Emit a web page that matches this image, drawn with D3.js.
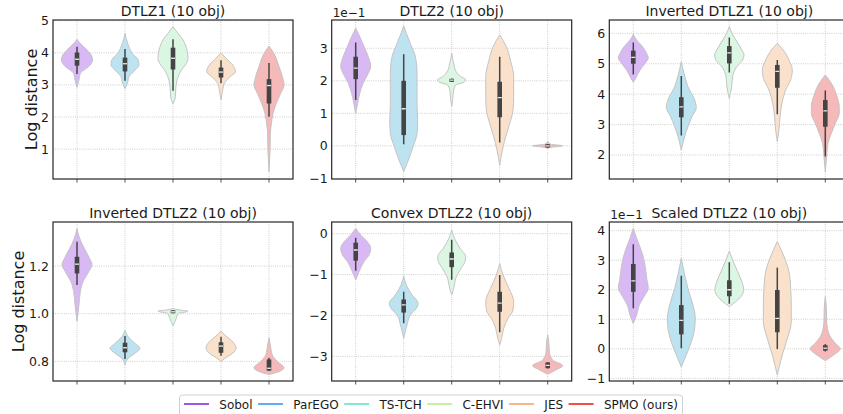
<!DOCTYPE html>
<html>
<head>
<meta charset="utf-8">
<script src="https://cdn.jsdelivr.net/npm/d3@7"></script>
<style>
  body { margin: 0; background: #fff; }
  svg { display: block; font-family: "DejaVu Sans", sans-serif; }
</style>
</head>
<body>
<svg id="chart" width="843" height="414"></svg>
<script>
// ---- Methods, legend and violin colours ----
const methods = ["Sobol", "ParEGO", "TS-TCH", "C-EHVI", "JES", "SPMO (ours)"];
const legendColors = ["#8a2be2", "#3a9ae8", "#5fe3c8", "#b5ee8c", "#f7a56e", "#ee2222"];
const violinColors = ["#d8b9f3", "#bde3f0", "#dcf6e4", "#f9e1cc", "#f4b9b8"];
const violinPositions = [0, 1, 2, 3, 4];

const panelTitles = [
  "DTLZ1 (10 obj)", "DTLZ2 (10 obj)", "Inverted DTLZ1 (10 obj)",
  "Inverted DTLZ2 (10 obj)", "Convex DTLZ2 (10 obj)", "Scaled DTLZ2 (10 obj)"
];

// Density profiles: [log distance, relative density] from top to bottom of each violin.
// Box stats: [lower whisker, q1, median, q3, upper whisker].
const dtlz1Shapes = [
  [[4.42,0],[4.29,0.22],[4.09,0.67],[3.88,1.0],[3.77,1.04],[3.57,0.78],[3.36,0.22],[3.15,0.13],[2.92,0]],
  [[4.61,0],[4.29,0.18],[3.98,0.49],[3.77,0.89],[3.62,0.93],[3.46,0.67],[3.26,0.27],[3.05,0.16],[2.89,0]],
  [[4.81,0],[4.61,0.33],[4.40,0.67],[4.09,0.93],[3.83,1.0],[3.67,0.89],[3.46,0.56],[3.15,0.27],[2.84,0.18],[2.63,0.16],[2.42,0]],
  [[4.0,0],[3.83,0.33],[3.62,0.78],[3.41,0.96],[3.26,0.62],[3.05,0.22],[2.84,0.11],[2.53,0]],
  [[4.21,0],[3.98,0.33],[3.57,0.67],[3.26,0.89],[3.0,1.0],[2.74,0.78],[2.43,0.49],[2.11,0.27],[1.80,0.16],[1.49,0.09],[0.97,0.07],[0.30,0]]
];
const dtlz1Boxes = [
  [3.34, 3.60, 3.80, 4.01, 4.19],
  [3.13, 3.42, 3.66, 3.85, 4.12],
  [2.82, 3.48, 3.83, 4.16, 4.42],
  [3.05, 3.23, 3.40, 3.54, 3.77],
  [2.01, 2.42, 2.98, 3.18, 3.68]
];

const dtlz2Shapes = [
  [[0.362,0],[0.336,0.27],[0.305,0.56],[0.274,0.84],[0.244,1.0],[0.223,0.84],[0.192,0.49],[0.162,0.27],[0.131,0.13],[0.100,0]],
  [[0.369,0],[0.346,0.18],[0.315,0.44],[0.274,0.78],[0.223,0.89],[0.172,0.89],[0.121,0.89],[0.079,0.93],[0.038,0.89],[-0.003,0.62],[-0.044,0.31],[-0.079,0]],
  [[0.285,0],[0.254,0.13],[0.228,0.30],[0.213,0.60],[0.203,0.93],[0.195,0.80],[0.188,0.30],[0.172,0.13],[0.145,0.07],[0.121,0]],
  [[0.341,0],[0.305,0.44],[0.264,0.71],[0.213,0.93],[0.151,0.93],[0.110,0.89],[0.069,0.67],[0.028,0.40],[-0.013,0.18],[-0.059,0]],
  [[0.015,0],[0.005,0.20],[0.000,1.0],[-0.004,0.30],[-0.008,0]]
];
const dtlz2Boxes = [
  [0.141, 0.205, 0.239, 0.274, 0.318],
  [0.005, 0.033, 0.114, 0.200, 0.282],
  [0.196, 0.197, 0.202, 0.206, 0.207],
  [0.010, 0.088, 0.148, 0.197, 0.274],
  [-0.006, -0.005, 0.000, 0.005, 0.006]
];

const invDtlz1Shapes = [
  [[5.97,0],[5.78,0.22],[5.56,0.62],[5.34,0.89],[5.2,1.0],[5.01,0.78],[4.79,0.44],[4.58,0.22],[4.39,0]],
  [[5.07,0],[4.68,0.18],[4.25,0.44],[3.81,0.89],[3.57,1.0],[3.26,0.71],[2.93,0.44],[2.60,0.22],[2.16,0]],
  [[6.22,0],[6.0,0.18],[5.78,0.44],[5.45,0.84],[5.29,0.98],[5.12,0.89],[4.90,0.49],[4.58,0.22],[4.25,0.16],[3.86,0]],
  [[5.67,0],[5.45,0.40],[5.12,0.78],[4.79,1.0],[4.47,0.89],[4.14,0.56],[3.70,0.31],[3.26,0.18],[2.82,0.11],[2.44,0]],
  [[4.63,0],[4.36,0.40],[3.92,0.78],[3.59,0.93],[3.37,0.93],[3.04,0.67],[2.71,0.40],[2.38,0.18],[1.95,0.09],[1.45,0]]
];
const invDtlz1Boxes = [
  [4.65, 5.00, 5.21, 5.43, 5.70],
  [2.64, 3.24, 3.58, 3.90, 4.60],
  [4.71, 5.01, 5.36, 5.58, 5.86],
  [3.34, 4.21, 4.75, 4.96, 5.12],
  [1.95, 2.93, 3.45, 3.81, 4.12]
];

const invDtlz2Shapes = [
  [[1.358,0],[1.316,0.18],[1.274,0.49],[1.232,0.84],[1.207,1.0],[1.176,0.78],[1.134,0.40],[1.092,0.22],[1.036,0.13],[0.969,0]],
  [[0.931,0],[0.903,0.22],[0.875,0.67],[0.855,1.0],[0.834,0.67],[0.813,0.22],[0.785,0]],
  [[1.022,0],[1.016,0.40],[1.011,1.0],[1.000,0.33],[0.980,0.22],[0.967,0.13],[0.950,0]],
  [[0.927,0],[0.910,0.27],[0.882,0.78],[0.857,1.0],[0.834,0.78],[0.813,0.27],[0.799,0]],
  [[0.899,0],[0.869,0.09],[0.827,0.22],[0.799,0.56],[0.773,1.0],[0.757,0.67],[0.745,0]]
];
const invDtlz2Boxes = [
  [1.120, 1.169, 1.208, 1.239, 1.302],
  [0.810, 0.838, 0.857, 0.878, 0.906],
  [1.002, 1.003, 1.008, 1.013, 1.014],
  [0.824, 0.836, 0.864, 0.880, 0.903],
  [0.760, 0.761, 0.771, 0.808, 0.815]
];

const convexShapes = [
  [[0.13,0],[-0.03,0.33],[-0.20,0.78],[-0.36,1.0],[-0.52,0.89],[-0.68,0.56],[-0.89,0.27],[-1.01,0.13],[-1.13,0]],
  [[-1.04,0],[-1.26,0.18],[-1.50,0.56],[-1.70,0.96],[-1.83,0.84],[-1.99,0.44],[-2.23,0.22],[-2.56,0]],
  [[0.09,0],[-0.11,0.18],[-0.36,0.56],[-0.56,0.93],[-0.68,0.89],[-0.85,0.62],[-1.09,0.27],[-1.30,0.16],[-1.50,0]],
  [[-0.73,0],[-1.01,0.22],[-1.34,0.62],[-1.66,0.93],[-1.87,0.89],[-2.07,0.56],[-2.31,0.27],[-2.56,0.13],[-2.72,0]],
  [[-2.48,0],[-2.64,0.07],[-2.89,0.11],[-3.09,0.33],[-3.23,1.0],[-3.33,0.56],[-3.44,0]]
];
const convexBoxes = [
  [-0.91, -0.66, -0.40, -0.22, -0.10],
  [-2.19, -1.93, -1.74, -1.61, -1.42],
  [-1.13, -0.82, -0.62, -0.46, -0.15],
  [-2.41, -1.91, -1.70, -1.42, -1.01],
  [-3.30, -3.29, -3.22, -3.15, -3.14]
];

const scaledShapes = [
  [[0.408,0],[0.374,0.22],[0.329,0.56],[0.284,0.78],[0.239,0.89],[0.205,1.0],[0.182,0.78],[0.148,0.40],[0.114,0.22],[0.086,0]],
  [[0.306,0],[0.261,0.18],[0.205,0.44],[0.148,0.78],[0.103,0.93],[0.069,0.89],[0.024,0.67],[-0.021,0.33],[-0.061,0]],
  [[0.331,0],[0.295,0.27],[0.261,0.56],[0.227,0.84],[0.199,0.96],[0.177,0.78],[0.160,0.44],[0.143,0]],
  [[0.363,0],[0.318,0.40],[0.261,0.78],[0.205,0.89],[0.148,0.93],[0.092,0.93],[0.035,0.67],[-0.021,0.33],[-0.089,0]],
  [[0.177,0],[0.137,0.07],[0.092,0.09],[0.047,0.27],[0.019,0.67],[0.000,1.0],[-0.021,0.56],[-0.040,0]]
];
const scaledBoxes = [
  [0.137, 0.193, 0.230, 0.287, 0.354],
  [0.002, 0.049, 0.096, 0.148, 0.247],
  [0.153, 0.178, 0.200, 0.232, 0.293],
  [-0.001, 0.056, 0.103, 0.199, 0.275],
  [-0.009, -0.006, 0.002, 0.012, 0.016]
];

// Y-axis limits and tick values per panel
const yLimits = [[0.069, 5.022], [-0.102, 0.387], [1.211, 6.438], [0.7175, 1.385], [-3.603, 0.285], [-0.109, 0.4294]];
const yTickValues = [
  [1, 2, 3, 4, 5],
  [-0.1, 0, 0.1, 0.2, 0.3],
  [2, 3, 4, 5, 6],
  [0.8, 1.0, 1.2],
  [-3, -2, -1, 0],
  [-0.1, 0, 0.1, 0.2, 0.3, 0.4]
];
const yOffsetExponent = [0, -1, 0, 0, 0, -1];   // shared 1eN factor shown above the axis
const yTickDecimals = [0, 0, 0, 1, 0, 0];

const shapesByPanel = [dtlz1Shapes, dtlz2Shapes, invDtlz1Shapes, invDtlz2Shapes, convexShapes, scaledShapes];
const boxesByPanel = [dtlz1Boxes, dtlz2Boxes, invDtlz1Boxes, invDtlz2Boxes, convexBoxes, scaledBoxes];

// ---- Layout ----
const svg = d3.select("#chart");
const colLeft = [53, 331.7, 609.3];
const rowTop = [20, 222];
const plotW = 240, plotH = 159;
const maxHalfWidth = 0.3125;   // in category units
const MINUS = "\u2212";

const fmtNum = (v, dec) => {
  const s = v.toFixed(dec);
  return s.startsWith("-") ? MINUS + s.slice(1) : s;
};

shapesByPanel.forEach((shapes, p) => {
  const col = p % 3, row = Math.floor(p / 3);
  const x0 = colLeft[col], y0 = rowTop[row];
  const g = svg.append("g").attr("transform", `translate(${x0},${y0})`);

  const x = d3.scaleLinear().domain([-0.5, 4.5]).range([0, plotW]);
  const y = d3.scaleLinear().domain(yLimits[p]).range([plotH, 0]);

  const defs = svg.append("defs");
  const clipId = "clip" + p;
  defs.append("clipPath").attr("id", clipId)
    .append("rect").attr("width", plotW).attr("height", plotH);

  // grid
  const grid = g.append("g").attr("stroke", "#b4b4b4").attr("stroke-width", 0.8)
    .attr("stroke-dasharray", "0.8,1.4");
  yTickValues[p].forEach(t => {
    grid.append("line").attr("x1", 0).attr("x2", plotW)
      .attr("y1", y(t)).attr("y2", y(t));
  });
  violinPositions.forEach(c => {
    grid.append("line").attr("x1", x(c)).attr("x2", x(c))
      .attr("y1", 0).attr("y2", plotH);
  });

  const body = g.append("g").attr("clip-path", `url(#${clipId})`);

  // violins
  const area = d3.area()
    .y(d => y(d[0]))
    .x0(d => 0)
    .x1(d => 0)
    .curve(d3.curveMonotoneY);

  shapes.forEach((shape, i) => {
    const cx = violinPositions[i];
    const a = d3.area()
      .y(d => y(d[0]))
      .x0(d => x(cx - d[1] * maxHalfWidth))
      .x1(d => x(cx + d[1] * maxHalfWidth))
      .curve(d3.curveMonotoneY);
    const pts = shape.slice().sort((m, n) => y(m[0]) - y(n[0]));
    body.append("path").attr("d", a(pts))
      .attr("fill", violinColors[i])
      .attr("stroke", "#c4c4c4")
      .attr("stroke-width", 1);
  });

  // inner boxes
  boxesByPanel[p].forEach((b, i) => {
    const cx = x(violinPositions[i]);
    const [lo, q1, med, q3, hi] = b;
    body.append("line").attr("x1", cx).attr("x2", cx)
      .attr("y1", y(hi)).attr("y2", y(lo))
      .attr("stroke", "#444").attr("stroke-width", 1.5);
    const top = y(q3), h = Math.max(y(q1) - y(q3), 3);
    body.append("rect").attr("x", cx - 2.3).attr("width", 4.6)
      .attr("y", top - (h - (y(q1) - y(q3))) / 2).attr("height", h)
      .attr("fill", "#444");
    body.append("line").attr("x1", cx - 2).attr("x2", cx + 2)
      .attr("y1", y(med)).attr("y2", y(med))
      .attr("stroke", "#e8e8e8").attr("stroke-width", 1.3);
  });

  // frame
  g.append("rect").attr("width", plotW).attr("height", plotH)
    .attr("fill", "none").attr("stroke", "#262626").attr("stroke-width", 1.2);

  // x ticks (no labels)
  violinPositions.forEach(c => {
    g.append("line").attr("x1", x(c)).attr("x2", x(c))
      .attr("y1", plotH).attr("y2", plotH + 3.5)
      .attr("stroke", "#262626").attr("stroke-width", 0.8);
  });

  // y tick labels
  const scale = Math.pow(10, -yOffsetExponent[p]);
  yTickValues[p].forEach(t => {
    g.append("text").attr("x", -4).attr("y", y(t))
      .attr("dy", "0.36em").attr("text-anchor", "end")
      .attr("font-size", 12.5).attr("fill", "#1a1a1a")
      .text(fmtNum(t * scale, yTickDecimals[p]));
  });
  if (yOffsetExponent[p] !== 0) {
    g.append("text").attr("x", 1).attr("y", -3)
      .attr("font-size", 12).attr("fill", "#1a1a1a")
      .text("1e" + MINUS + Math.abs(yOffsetExponent[p]));
  }

  // title
  g.append("text").attr("x", plotW / 2).attr("y", -4)
    .attr("text-anchor", "middle").attr("font-size", 14).attr("fill", "#1a1a1a")
    .text(panelTitles[p]);

  // y label on the first column
  if (col === 0) {
    const lx = row === 0 ? -16 : -29;
    g.append("text")
      .attr("transform", `translate(${lx},${plotH / 2}) rotate(-90)`)
      .attr("text-anchor", "middle").attr("font-size", 16).attr("fill", "#1a1a1a")
      .text("Log distance");
  }
});

// ---- Legend ----
const legend = svg.append("g");
const legendBox = legend.append("rect")
  .attr("x", 179.5).attr("y", 395).attr("width", 503).attr("height", 30)
  .attr("rx", 3).attr("fill", "#fff").attr("stroke", "#d0d0d0").attr("stroke-width", 1);
let lx = 184;
methods.forEach((m, i) => {
  legend.append("line").attr("x1", lx).attr("x2", lx + 25)
    .attr("y1", 404).attr("y2", 404)
    .attr("stroke", legendColors[i]).attr("stroke-width", 1.6);
  const t = legend.append("text").attr("x", lx + 35.3).attr("y", 408.5)
    .attr("font-size", 12).attr("fill", "#1a1a1a").text(m);
  lx = lx + 35.3 + t.node().getComputedTextLength() + 5.5;
});
</script>
</body>
</html>
